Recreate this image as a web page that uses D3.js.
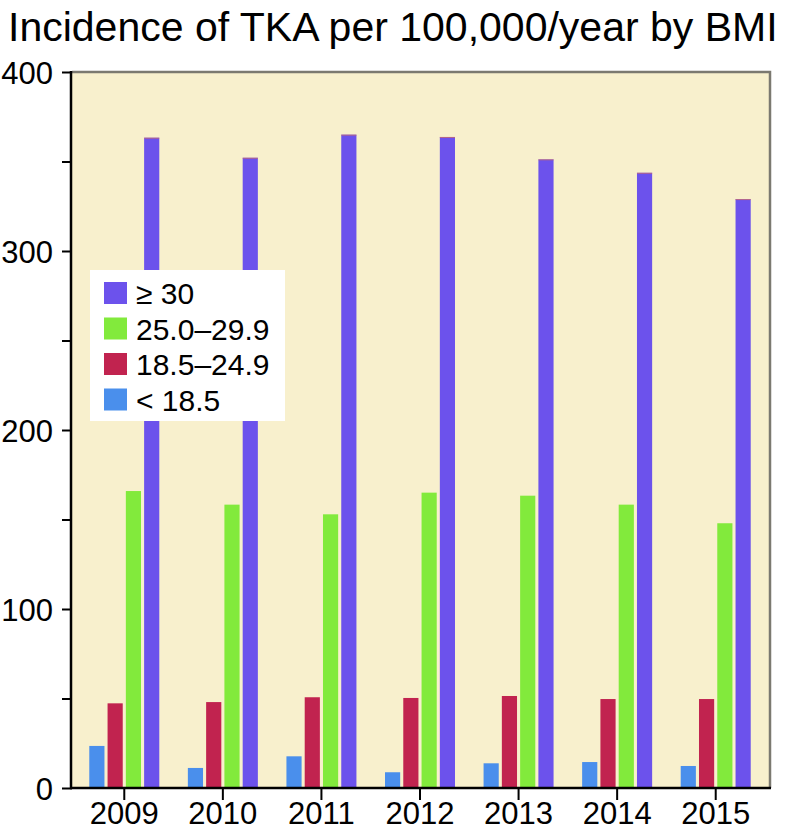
<!DOCTYPE html>
<html>
<head>
<meta charset="utf-8">
<script src="https://cdn.jsdelivr.net/npm/d3@7"></script>
<style>
  html, body { margin: 0; padding: 0; background: #ffffff; }
  svg { display: block; font-family: "Liberation Sans", Arial, Helvetica, sans-serif; }
</style>
</head>
<body>
<svg id="chart" width="789" height="831"></svg>
<script>
const years = ["2009", "2010", "2011", "2012", "2013", "2014", "2015"];
const seriesNames = ["< 18.5", "18.5–24.9", "25.0–29.9", "≥ 30"];
const under185 = [23.5, 11.2, 17.7, 8.8, 13.8, 14.5, 12.3];
const normal = [47.3, 48.0, 50.7, 50.3, 51.4, 49.7, 49.7];
const overweight = [165.9, 158.3, 152.9, 165.0, 163.3, 158.3, 147.9];
const obese = [363.3, 352.1, 365.0, 363.7, 351.2, 343.7, 329.0];
const yTickValues = [0, 100, 200, 300, 400];
const yMinorTicks = [50, 150, 250, 350];
const legendOrder = ["≥ 30", "25.0–29.9", "18.5–24.9", "< 18.5"];
const titleText = "Incidence of TKA per 100,000/year by BMI";

const colors = {
  "< 18.5": "#4a8fec",
  "18.5–24.9": "#c1234f",
  "25.0–29.9": "#82ea3c",
  "≥ 30": "#6c52ec"
};
const seriesValues = [under185, normal, overweight, obese];

const svg = d3.select("#chart");
const plot = { left: 72, right: 770, top: 72, bottom: 788 };

const x = d3.scaleBand().domain(years).range([75, 765]).padding(0);
const xInner = d3.scaleBand().domain(seriesNames).range([-35, 35]).paddingInner(0.17).paddingOuter(0);
const y = d3.scaleLinear().domain([0, 400]).range([plot.bottom, plot.top]);

// background
svg.append("rect")
  .attr("x", plot.left).attr("y", plot.top)
  .attr("width", plot.right - plot.left).attr("height", plot.bottom - plot.top)
  .attr("fill", "#f8f0cd");

// top/right border
svg.append("path")
  .attr("d", `M${plot.left},${plot.top}H${plot.right}V${plot.bottom}`)
  .attr("fill", "none").attr("stroke", "#7b7970").attr("stroke-width", 2.5);

// bars
const groups = svg.append("g").selectAll("g")
  .data(years).join("g")
  .attr("transform", d => `translate(${x(d) + x.bandwidth() / 2},0)`);

groups.selectAll("rect")
  .data((yr, i) => seriesNames.map((s, k) => ({ s, v: seriesValues[k][i] })))
  .join("rect")
  .attr("x", d => xInner(d.s))
  .attr("width", xInner.bandwidth())
  .attr("y", d => y(d.v))
  .attr("height", d => y(0) - y(d.v))
  .attr("fill", d => colors[d.s]);

// thin top edge on tall bars
groups.selectAll("line.top")
  .data((yr, i) => [{ s: "≥ 30", v: obese[i] }])
  .join("line")
  .attr("class", "top")
  .attr("x1", d => xInner(d.s)).attr("x2", d => xInner(d.s) + xInner.bandwidth())
  .attr("y1", d => y(d.v) + 0.5).attr("y2", d => y(d.v) + 0.5)
  .attr("stroke", "#c86a70").attr("stroke-width", 1).attr("opacity", 0.8);

// y axis
const yAxis = d3.axisLeft(y).tickValues(yTickValues).tickSize(10).tickPadding(9);
const gy = svg.append("g").attr("transform", `translate(${plot.left},0)`).call(yAxis);
gy.select(".domain").remove();
gy.selectAll(".tick line").attr("stroke", "#000").attr("stroke-width", 2);
gy.selectAll(".tick text").attr("font-size", 31).attr("fill", "#000")
  .attr("font-family", "'Liberation Sans', Arial, sans-serif").attr("dy", "0.36em");

const gyMinor = svg.append("g").attr("transform", `translate(${plot.left},0)`)
  .call(d3.axisLeft(y).tickValues(yMinorTicks).tickSize(10).tickFormat(""));
gyMinor.select(".domain").remove();
gyMinor.selectAll(".tick line").attr("stroke", "#000").attr("stroke-width", 2);

svg.append("line")
  .attr("x1", plot.left - 1).attr("x2", plot.left - 1)
  .attr("y1", plot.top - 1).attr("y2", plot.bottom + 1)
  .attr("stroke", "#000").attr("stroke-width", 2.5);

// x axis
const xAxis = d3.axisBottom(x).tickSize(12).tickPadding(2);
const gx = svg.append("g").attr("transform", `translate(0,${plot.bottom})`).call(xAxis);
gx.select(".domain").remove();
gx.selectAll(".tick line").attr("stroke", "#000").attr("stroke-width", 2);
gx.selectAll(".tick text").attr("font-size", 31).attr("fill", "#000")
  .attr("font-family", "'Liberation Sans', Arial, sans-serif");

svg.append("line")
  .attr("x1", plot.left - 2).attr("x2", plot.right + 1)
  .attr("y1", plot.bottom).attr("y2", plot.bottom)
  .attr("stroke", "#000").attr("stroke-width", 2.5);

// title
svg.append("text")
  .attr("x", 8).attr("y", 41)
  .attr("font-size", 41)
  .attr("fill", "#000")
  .text(titleText);

// legend
const legend = svg.append("g");
legend.append("rect")
  .attr("x", 90).attr("y", 270).attr("width", 195).attr("height", 151)
  .attr("fill", "#ffffff");
const rows = legend.selectAll("g.row")
  .data(legendOrder).join("g")
  .attr("class", "row")
  .attr("transform", (d, i) => `translate(104,${282 + i * 35.5})`);
rows.append("rect")
  .attr("width", 23).attr("height", 22)
  .attr("fill", d => colors[d]);
rows.append("text")
  .attr("x", 32).attr("y", 22)
  .attr("font-size", 30).attr("fill", "#000")
  .text(d => d);
</script>
</body>
</html>
